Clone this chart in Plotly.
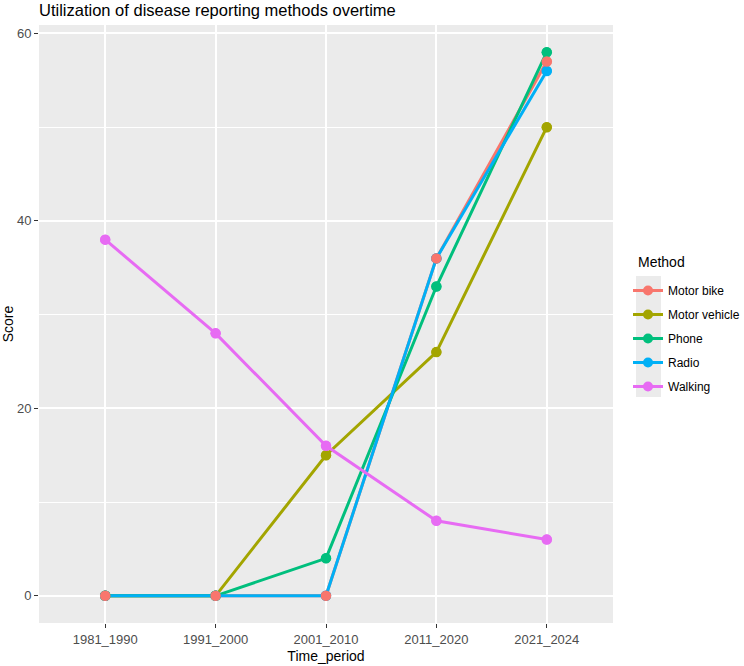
import plotly.graph_objects as go

periods = ["1981_1990", "1991_2000", "2001_2010", "2011_2020", "2021_2024"]
motor_bike = [0, 0, 0, 36, 57]
motor_vehicle = [0, 0, 15, 26, 50]
phone = [0, 0, 4, 33, 58]
radio = [0, 0, 0, 36, 56]
walking = [38, 28, 16, 8, 6]

series = [
    ("Motor bike", motor_bike, "#F8766D"),
    ("Motor vehicle", motor_vehicle, "#A3A500"),
    ("Phone", phone, "#00BF7D"),
    ("Radio", radio, "#00B0F6"),
    ("Walking", walking, "#E76BF3"),
]

fig = go.Figure()
for name, vals, col in series:
    fig.add_trace(go.Scatter(
        x=periods, y=vals, name=name, mode="lines+markers",
        line=dict(color=col, width=3), marker=dict(color=col, size=10),
        showlegend=True, legendgroup=name,
    ))

# points drawn on top (order mimics reference overlap)
top_order = ["Motor vehicle", "Phone", "Walking", "Radio", "Motor bike"]
lookup = {n: (v, c) for n, v, c in series}
for name in top_order:
    vals, col = lookup[name]
    fig.add_trace(go.Scatter(
        x=periods, y=vals, mode="markers", marker=dict(color=col, size=10.5),
        showlegend=False, hoverinfo="skip",
    ))

W, H = 744, 666
L, R, T, B = 39, 131, 25, 43
PW, PH = W - L - R, H - T - B


def px_x(x):
    return (x - L) / PW


def px_y(y):
    return 1 - (y - T) / PH


fig.update_layout(
    width=W, height=H,
    margin=dict(l=L, r=R, t=T, b=B, autoexpand=False),
    paper_bgcolor="white",
    plot_bgcolor="#EBEBEB",
    font=dict(family="Liberation Sans, Arial, sans-serif", color="#000000"),
    title=dict(text="Utilization of disease reporting methods overtime",
               x=L / W, xref="container", xanchor="left",
               y=1 - 10 / H, yref="container", yanchor="middle",
               font=dict(size=16.5, color="#000000")),
    xaxis=dict(
        title=dict(text="Time_period", font=dict(size=14, color="#000000"), standoff=5),
        type="category", categoryorder="array", categoryarray=periods,
        range=[-0.6, 4.6], automargin=False,
        showgrid=True, gridcolor="white", gridwidth=1.5,
        ticks="outside", ticklen=4, tickcolor="#333333", tickwidth=1,
        tickfont=dict(size=13, color="#4D4D4D"),
        zeroline=False, showline=False,
    ),
    yaxis=dict(
        title=dict(text="Score", font=dict(size=14, color="#000000"), standoff=8),
        range=[-2.9, 60.9], automargin=False,
        tickvals=[0, 20, 40, 60],
        showgrid=True, gridcolor="white", gridwidth=1.5,
        minor=dict(tickvals=[10, 30, 50], showgrid=True, gridcolor="white", gridwidth=0.7, ticks=""),
        ticks="outside", ticklen=4, tickcolor="#333333", tickwidth=1,
        tickfont=dict(size=13, color="#4D4D4D"),
        zeroline=False, showline=False,
    ),
    legend=dict(
        x=628 / W, xanchor="left", xref="container",
        y=1 - 276 / H, yanchor="top", yref="container",
        bgcolor="rgba(0,0,0,0)",
        font=dict(size=12, color="#000000"),
        itemwidth=30,
        tracegroupgap=5,
    ),
    annotations=[dict(
        text="Method", xref="paper", yref="paper",
        x=px_x(636), y=px_y(262), xanchor="left", yanchor="middle",
        showarrow=False, font=dict(size=14, color="#000000"),
    )],
)

# grey key background for legend
fig.add_shape(type="rect", xref="paper", yref="paper",
              x0=px_x(636), x1=px_x(661), y0=px_y(397), y1=px_y(276),
              fillcolor="#EBEBEB", line=dict(width=0), layer="below")

fig.write_html("out.html")
